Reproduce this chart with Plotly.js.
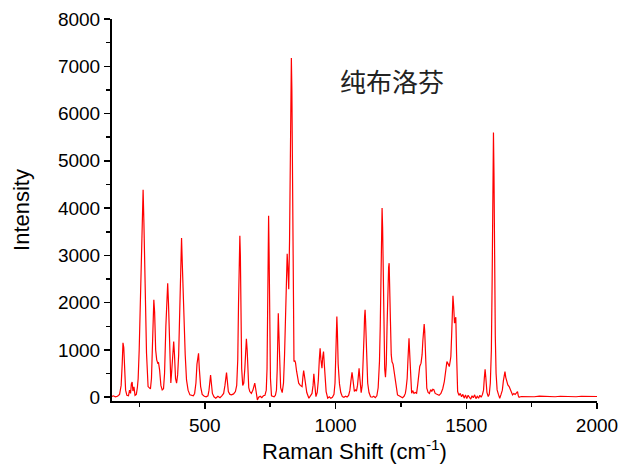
<!DOCTYPE html>
<html>
<head>
<meta charset="utf-8">
<script src="https://cdn.plot.ly/plotly-3.0.1.min.js"></script>
<style>html,body{margin:0;padding:0;background:#fff;}#chart{width:624px;height:469px;}</style>
</head>
<body>
<div id="chart"></div>
<script>
// Raman spectrum of pure ibuprofen
const shiftA = [145,150,158,166,174,180,184,187,190,193,
  197,202,208,212,216,219,222,225,229,233,
  238,242,245,249,253,257,261,264,267,271,
  277,283,288,292,296,300,303,305,308,312,
  316,320,323,327,332,337,342,346,351,355,
  358,361,365,370,374,378,381,384,388,392,
  396,400,404,408,411,414,417,420,425,430,
  436,443,450,456,461,466,470,474,476,479,
  484,490,498];
const intensityA = [15,30,10,20,60,250,700,1150,1050,500,
  150,40,30,150,80,280,320,130,220,40,
  60,200,390,1000,1900,3000,3900,4390,3700,2200,
  935,225,190,175,400,1000,1700,2060,1800,1000,
  790,720,730,580,250,155,180,500,1495,2100,
  2410,2000,1000,300,600,1000,1177,900,400,296,
  472,900,1800,2900,3365,2800,2100,1706,900,366,
  150,50,40,30,80,300,700,900,930,600,
  225,60,20];

const shiftB = [505,512,516,519,522,525,529,535,542,550,
  558,565,572,577,580,583,586,590,596,602,
  610,617,622,626,629,632,634,636,638,641,
  645,649,653,656,659,662,665,668,672,678,
  684,688,691,694,698,701,706,712,718,724,
  730,735,738,740,742,744,746,748,751,755,
  760,765,770,774,777,779,781,783,786,790,
  796,801,805,809,812,815,818,821,824,827,
  829,831,833,835,837,839,841,844,847,851,
  855,859,865,872,875,878,881,885,890,898];
const intensityB = [10,30,150,350,470,300,80,10,-20,20,
  -10,30,80,250,450,521,350,120,60,49,
  70,120,250,800,2000,3100,3414,3000,1800,600,
  250,300,600,1000,1234,1000,500,200,120,80,
  150,250,296,200,50,-57,0,20,-10,30,
  40,150,600,1500,3000,3837,3000,1500,400,28,
  20,10,40,150,600,1300,1778,1400,600,200,
  98,300,900,1918,2700,3033,2700,2285,3300,5000,
  6500,7175,6500,4500,2600,1300,753,780,725,550,
  400,296,250,225,420,563,450,250,100,-21];

const shiftC = [904,910,914,917,920,925,930,934,938,941,
  944,948,951,954,957,960,964,970,976,982,
  988,994,998,1001,1003,1005,1007,1010,1015,1020,
  1026,1032,1038,1044,1050,1055,1059,1063,1066,1069,
  1072,1076,1080,1084,1087,1090,1093,1098,1102,1106,
  1109,1111,1113,1115,1118,1123,1128,1134,1140,1146,
  1152,1158,1163,1168,1171,1174,1176,1178,1180,1182,
  1185,1188,1191,1194,1197,1200,1203,1205,1207,1210,
  1213,1216,1220,1225,1230,1237,1243,1250];
const intensityC = [20,80,250,493,300,13,100,350,800,1037,
  800,614,850,965,700,350,120,-21,10,-20,
  0,60,300,900,1400,1706,1400,700,282,100,
  13,0,20,5,40,150,350,529,400,200,
  120,155,130,250,450,614,400,98,250,700,
  1300,1700,1848,1600,900,296,100,10,0,20,
  -10,30,200,753,1500,2800,3700,4000,3600,2500,
  1200,600,423,700,1500,2300,2750,2836,2500,1600,
  900,750,700,508,250,49,30,10];

const shiftD = [1256,1262,1267,1270,1274,1277,1279,1281,1283,1286,
  1291,1295,1300,1305,1310,1314,1318,1322,1327,1331,
  1334,1337,1339,1341,1344,1349,1354,1359,1364,1368,
  1372,1376,1381,1389,1396,1403,1410,1416,1421,1426,
  1431,1435,1439,1441,1444,1447,1449,1452,1455,1458,
  1460,1463,1467,1472,1477,1482,1487,1492,1497,1502,
  1507,1512,1517,1522,1527,1532,1537,1542,1547,1552,
  1557,1562,1566,1569,1572,1575,1579,1584,1588,1592,
  1596,1599,1602,1604,1606,1608,1611,1614,1618,1623,
  1628,1633,1638,1642,1645,1648,1651,1655,1659,1664,
  1669,1673,1677,1682,1687,1692,1696,1699,1702];
const intensityD = [-10,20,80,190,400,800,1100,1248,1000,500,
  85,140,80,100,85,250,508,650,720,900,
  1200,1500,1545,1400,900,190,100,80,160,120,
  170,160,80,49,40,80,180,330,500,753,
  700,648,780,860,1300,2000,2144,1900,1566,1650,
  1693,900,120,40,80,10,60,-20,50,-30,
  40,0,-40,30,-10,50,-30,20,-20,40,
  0,60,150,400,593,400,100,13,60,300,
  1000,2500,4800,5600,4700,2800,1300,500,155,60,
  -21,60,150,350,480,542,420,330,260,225,
  150,100,49,80,60,90,120,30,0];

const shiftE = [1710,1725,1740,1760,1780,1800,1820,1840,1860,1880,
  1900,1920,1940,1960,1980,2000];
const intensityE = [15,10,20,10,25,15,20,10,20,15,
  25,10,20,15,20,15];

const xTickVals = [500,1000,1500,2000];
const yTickVals = [0,1000,2000,3000,4000,5000,6000,7000,8000];
const sampleLabel = '纯布洛芬';

const x = [].concat(shiftA, shiftB, shiftC, shiftD, shiftE);
const y = [].concat(intensityA, intensityB, intensityC, intensityD, intensityE);

const trace = {
  x: x, y: y, type: 'scatter', mode: 'lines',
  line: {color: '#ff0000', width: 1.2},
  hoverinfo: 'skip'
};

const font = 'Liberation Sans, Arial, sans-serif';
const layout = {
  width: 624, height: 469,
  margin: {l: 112, r: 27, t: 19, b: 68, pad: 0},
  paper_bgcolor: '#ffffff', plot_bgcolor: '#ffffff',
  showlegend: false,
  font: {family: font, color: '#000', size: 19},
  xaxis: {
    range: [145, 2000], showgrid: false, zeroline: false,
    showline: true, linecolor: '#000', linewidth: 2,
    ticks: 'outside', ticklen: 6, tickwidth: 1.5, tickcolor: '#000',
    tickvals: xTickVals, tickfont: {family: font, size: 19, color: '#000'},
    minor: {ticks: 'outside', ticklen: 4, tickwidth: 1.5, tickcolor: '#000', dtick: 250, tick0: 0},
    title: {text: 'Raman Shift (cm<sup>-1</sup>)', font: {family: font, size: 22, color: '#000'}, standoff: 9}
  },
  yaxis: {
    range: [-80, 8000], showgrid: false, zeroline: false,
    showline: true, linecolor: '#000', linewidth: 2,
    ticks: 'outside', ticklen: 6, tickwidth: 1.5, tickcolor: '#000',
    tickvals: yTickVals, tickfont: {family: font, size: 19, color: '#000'},
    minor: {ticks: 'outside', ticklen: 4, tickwidth: 1.5, tickcolor: '#000', dtick: 500, tick0: 0},
    title: {text: 'Intensity', font: {family: font, size: 22, color: '#000'}, standoff: 22}
  },
  annotations: [{
    text: sampleLabel, xref: 'paper', yref: 'paper', x: 0.577, y: 0.839,
    xanchor: 'center', yanchor: 'middle', showarrow: false,
    font: {family: 'Noto Sans CJK SC, sans-serif', size: 26, color: '#222'}
  }]
};

Plotly.newPlot('chart', [trace], layout, {displayModeBar: false, staticPlot: true});
</script>
</body>
</html>
